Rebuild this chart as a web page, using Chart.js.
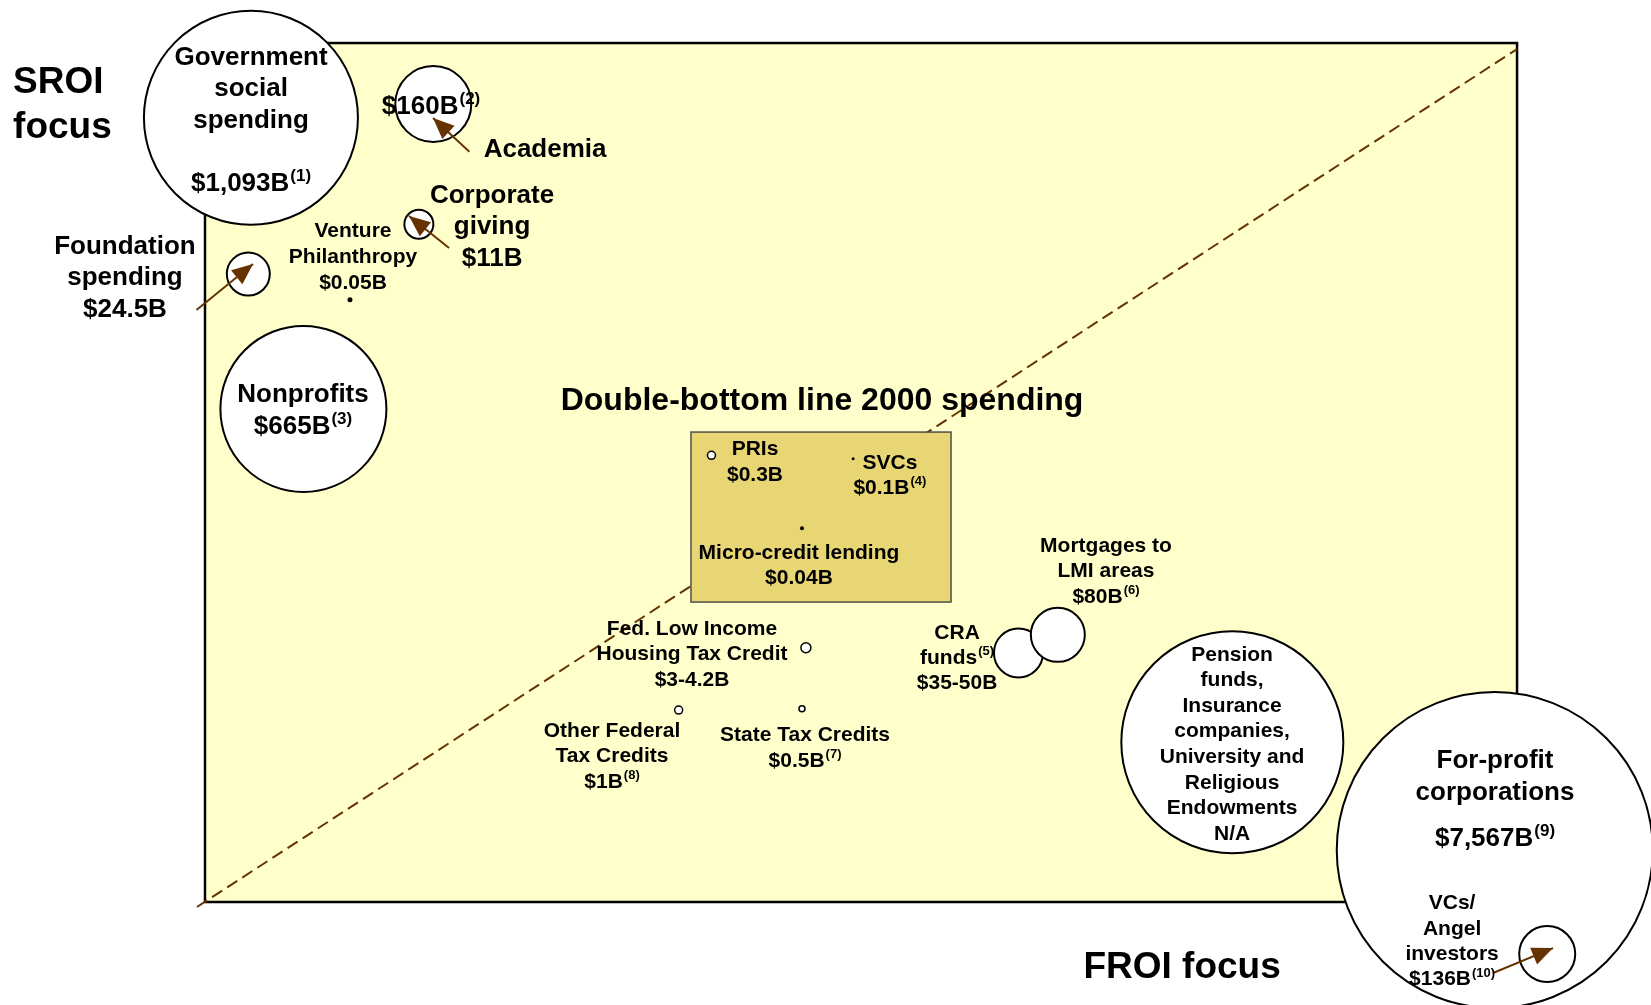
<!DOCTYPE html>
<html>
<head>
<meta charset="utf-8">
<script src="https://cdn.jsdelivr.net/npm/chart.js@4.4.1/dist/chart.umd.min.js"></script>
<style>
  html, body { margin: 0; padding: 0; background: #fff; }
  canvas { display: block; }
</style>
</head>
<body>
<canvas id="spendChart" width="1651" height="1005"></canvas>
<script>
// spending sources placed by financial-return focus (x) and social-return focus (y), 0..100
const categories = ['Government social spending', 'Nonprofits', 'Foundation spending', 'Academia',
  'Corporate giving', 'Venture Philanthropy', 'PRIs', 'SVCs', 'Micro-credit lending',
  'Fed. Low Income Housing Tax Credit', 'Other Federal Tax Credits', 'State Tax Credits',
  'CRA funds', 'Mortgages to LMI areas', 'Pension funds, Insurance companies, University and Religious Endowments',
  'For-profit corporations', 'VCs/Angel investors'];
const financialFocus = [3.5, 7.5, 3.3, 17.4, 16.3, 11.05, 38.6, 49.4, 45.5, 45.8, 36.1, 45.5, 62.0, 65.0, 78.3, 98.3, 102.3];
const socialFocus = [91.3, 57.4, 73.1, 92.9, 78.9, 70.1, 52.0, 51.6, 43.5, 29.6, 22.35, 22.5, 29.0, 31.1, 18.6, 6.05, -6.05];
const bubbleRadius = [107, 83, 21.5, 38, 14.5, 2.5, 4, 1.5, 2, 5, 4, 3, 24.5, 27, 111, 158, 28];
const spendLabels = ['$1,093B', '$665B', '$24.5B', '$160B', '$11B', '$0.05B', '$0.3B', '$0.1B', '$0.04B',
  '$3-4.2B', '$1B', '$0.5B', '$35-50B', '$80B', 'N/A', '$7,567B', '$136B'];
const footnotes = ['1', '3', '', '2', '', '', '', '4', '', '', '8', '7', '', '6', '', '9', '10'];

// dashed diagonal, double-bottom-line box, arrows
const diagonalX = [-0.61, 100];
const diagonalY = [-0.58, 99.3];
const dblBox = { x0: 37.04, x1: 56.86, y0: 34.92, y1: 54.71 };
const arrowTail = [[20.15, 87.35], [18.6, 76.13], [-0.65, 68.92], [98.17, -8.27]];
const arrowHead = [[17.38, 91.27], [15.55, 79.86], [3.66, 74.27], [102.74, -5.36]];

const BROWN = '#663300';
const FONT = "'Liberation Sans', Arial, sans-serif";

function val(i) {
  return spendLabels[i] + (footnotes[i] ? '^(' + footnotes[i] + ')' : '');
}

const textBlocks = [
  { lines: ['SROI', 'focus'], x: -14.63, y: 92.7, size: 37, lh: 45, align: 'left' },
  { lines: ['FROI focus'], x: 74.47, y: -7.7, size: 37 },
  { lines: ['Double-bottom line 2000 spending'], x: 47.03, y: 58.35, size: 32 },
  { lines: ['Government', 'social', 'spending', '', val(0)], x: 3.51, y: 90.95, size: 26, lh: 31.5 },
  { lines: [val(3)], x: 17.23, y: 92.55, size: 26 },
  { lines: ['Academia'], x: 25.92, y: 87.6, size: 26 },
  { lines: ['Corporate', 'giving', val(4)], x: 21.88, y: 78.6, size: 26, lh: 31.5 },
  { lines: ['Foundation', 'spending', val(2)], x: -6.1, y: 72.65, size: 26, lh: 31.5 },
  { lines: ['Venture', 'Philanthropy', val(5)], x: 11.28, y: 75.1, size: 21, lh: 26 },
  { lines: ['Nonprofits', val(1)], x: 7.47, y: 57.18, size: 26, lh: 32 },
  { lines: ['PRIs', val(6)], x: 41.92, y: 51.24, size: 21, lh: 26 },
  { lines: ['SVCs', val(7)], x: 52.2, y: 49.67, size: 21, lh: 25 },
  { lines: ['Micro-credit lending', val(8)], x: 45.27, y: 39.19, size: 21, lh: 25 },
  { lines: ['Fed. Low Income', 'Housing Tax Credit', val(9)], x: 37.12, y: 28.83, size: 21, lh: 25.5 },
  { lines: ['Other Federal', 'Tax Credits', val(10)], x: 31.02, y: 16.95, size: 21, lh: 25.5 },
  { lines: ['State Tax Credits', val(11)], x: 45.73, y: 17.94, size: 21, lh: 26 },
  { lines: ['CRA', 'funds^(5)', spendLabels[12]], x: 57.32, y: 28.42, size: 21, lh: 25 },
  { lines: ['Mortgages to', 'LMI areas', val(13)], x: 68.67, y: 38.49, size: 21, lh: 25.5 },
  { lines: ['Pension', 'funds,', 'Insurance', 'companies,', 'University and', 'Religious', 'Endowments', val(14)],
    x: 78.28, y: 18.35, size: 21, lh: 25.6 },
  { lines: ['For-profit', 'corporations'], x: 98.32, y: 14.57, size: 26, lh: 32 },
  { lines: [val(15)], x: 98.32, y: 7.35, size: 26 },
  { lines: ['VCs/', 'Angel', 'investors', val(16)], x: 95.05, y: -4.6, size: 21, lh: 25.3 }
];

function drawLine(ctx, str, cx, cy, size, align) {
  const parts = str.split('^');
  const main = parts[0], sup = parts[1] || '';
  const supSize = Math.round(size * 0.64);
  ctx.font = 'bold ' + size + 'px ' + FONT;
  const w1 = ctx.measureText(main).width;
  ctx.font = 'bold ' + supSize + 'px ' + FONT;
  const w2 = sup ? ctx.measureText(sup).width + 1 : 0;
  let x = align === 'left' ? cx : cx - (w1 + w2) / 2;
  ctx.font = 'bold ' + size + 'px ' + FONT;
  ctx.fillText(main, x, cy);
  if (sup) {
    ctx.font = 'bold ' + supSize + 'px ' + FONT;
    ctx.fillText(sup, x + w1 + 1, cy - size * 0.3);
  }
}

const decorations = {
  id: 'decorations',
  beforeDatasetsDraw(chart) {
    const { ctx, scales: { x, y } } = chart;
    const l = x.getPixelForValue(0), r = x.getPixelForValue(100);
    const t = y.getPixelForValue(100), b = y.getPixelForValue(0);
    ctx.save();
    ctx.fillStyle = '#FFFFCC';
    ctx.fillRect(l, t, r - l, b - t);
    ctx.lineWidth = 2.5;
    ctx.strokeStyle = '#000';
    ctx.strokeRect(l, t, r - l, b - t);
    ctx.restore();
  },
  afterDatasetDraw(chart, args) {
    if (args.index !== 0) return;
    const { ctx, scales: { x, y } } = chart;
    const l = x.getPixelForValue(dblBox.x0), r = x.getPixelForValue(dblBox.x1);
    const t = y.getPixelForValue(dblBox.y1), b = y.getPixelForValue(dblBox.y0);
    ctx.save();
    ctx.fillStyle = '#E8D574';
    ctx.fillRect(l, t, r - l, b - t);
    ctx.lineWidth = 1.5;
    ctx.strokeStyle = '#4d4d4d';
    ctx.strokeRect(l, t, r - l, b - t);
    ctx.restore();
  },
  afterDatasetsDraw(chart) {
    const { ctx, scales: { x, y } } = chart;
    ctx.save();
    // arrow heads
    for (let i = 2; i < chart.data.datasets.length; i++) {
      const pts = chart.getDatasetMeta(i).data;
      const p0 = pts[0], p1 = pts[1];
      const ang = Math.atan2(p1.y - p0.y, p1.x - p0.x);
      const len = 21, half = 9;
      ctx.fillStyle = BROWN;
      ctx.beginPath();
      ctx.moveTo(p1.x, p1.y);
      ctx.lineTo(p1.x - len * Math.cos(ang) + half * Math.sin(ang), p1.y - len * Math.sin(ang) - half * Math.cos(ang));
      ctx.lineTo(p1.x - len * Math.cos(ang) - half * Math.sin(ang), p1.y - len * Math.sin(ang) + half * Math.cos(ang));
      ctx.closePath();
      ctx.fill();
    }
    // labels
    ctx.fillStyle = '#000';
    ctx.textBaseline = 'middle';
    ctx.textAlign = 'left';
    textBlocks.forEach(b => {
      const cx = x.getPixelForValue(b.x);
      const cy = y.getPixelForValue(b.y);
      const lh = b.lh || b.size * 1.2;
      const top = cy - lh * (b.lines.length - 1) / 2;
      b.lines.forEach((ln, k) => {
        if (ln) drawLine(ctx, ln, cx, top + k * lh, b.size, b.align);
      });
    });
    ctx.restore();
  }
};

const bubbles = categories.map((c, i) => ({ x: financialFocus[i], y: socialFocus[i], r: bubbleRadius[i] }));

const arrowSets = arrowTail.map((t, i) => ({
  type: 'line',
  data: [{ x: t[0], y: t[1] }, { x: arrowHead[i][0], y: arrowHead[i][1] }],
  borderColor: BROWN,
  borderWidth: 2,
  pointRadius: 0,
  clip: false,
  order: 1
}));

new Chart(document.getElementById('spendChart'), {
  type: 'bubble',
  data: {
    datasets: [
      {
        type: 'line',
        data: diagonalX.map((v, i) => ({ x: v, y: diagonalY[i] })),
        borderColor: BROWN,
        borderWidth: 2,
        borderDash: [12, 6],
        pointRadius: 0,
        clip: false,
        order: 3
      },
      {
        label: 'Spending',
        data: bubbles,
        backgroundColor: bubbleRadius.map(r => r <= 2.5 ? '#000' : '#fff'),
        borderColor: '#000',
        borderWidth: bubbleRadius.map(r => r <= 2.5 ? 0 : (r < 6 ? 1.5 : 2)),
        clip: false,
        order: 2
      },
      ...arrowSets
    ]
  },
  options: {
    responsive: false,
    animation: false,
    devicePixelRatio: 1,
    events: [],
    layout: { autoPadding: false, padding: 0 },
    scales: {
      x: { type: 'linear', min: -15.625, max: 110.21, display: false },
      y: { type: 'linear', min: -11.99, max: 105.01, display: false }
    },
    plugins: {
      legend: { display: false },
      tooltip: { enabled: false }
    }
  },
  plugins: [decorations]
});
</script>
</body>
</html>
